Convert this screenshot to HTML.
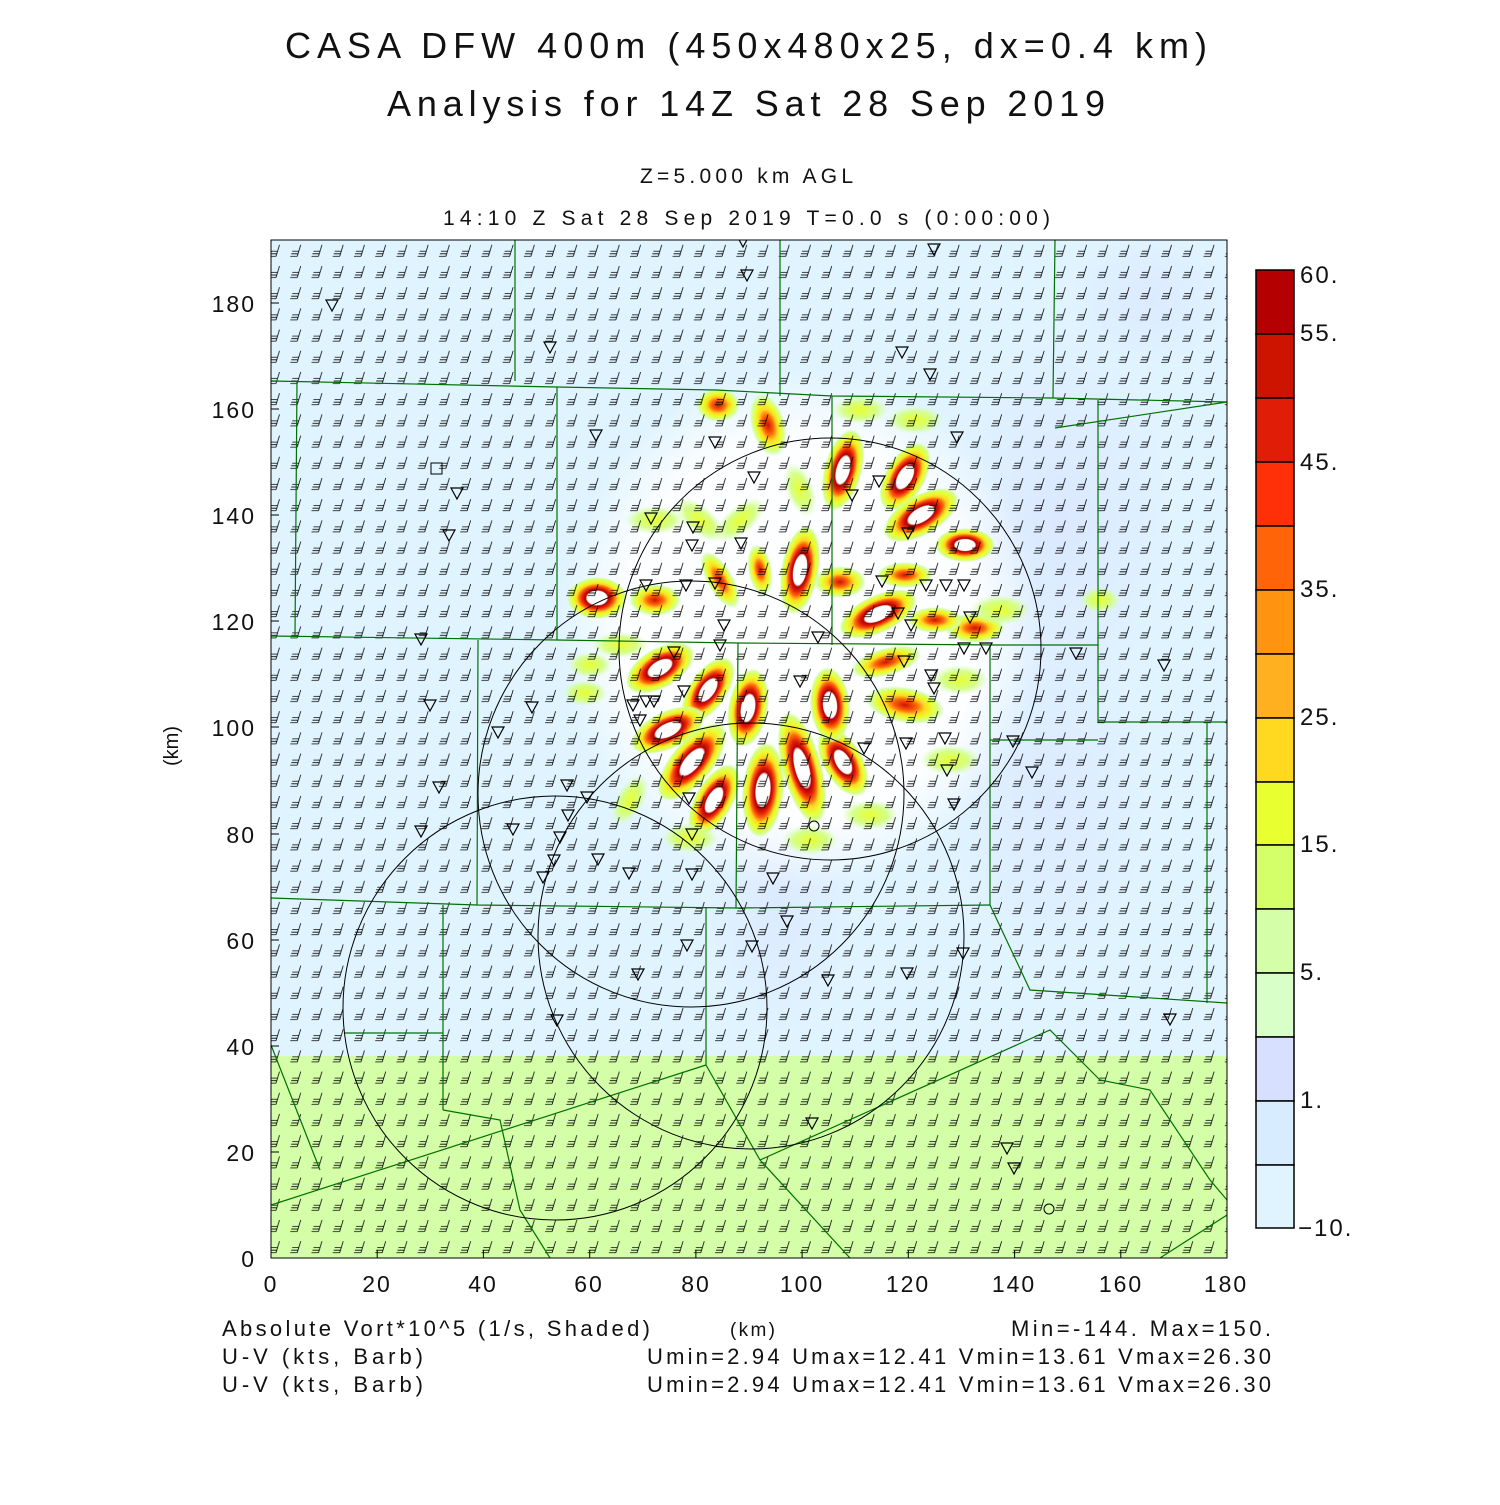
<!DOCTYPE html>
<html><head><meta charset="utf-8"><style>
html,body{margin:0;padding:0;background:#fff;}
svg text{font-family:"Liberation Sans",sans-serif;fill:#111;}
</style></head><body>
<svg width="1500" height="1500" viewBox="0 0 1500 1500" xmlns="http://www.w3.org/2000/svg">
<defs>
<clipPath id="pc"><rect x="271" y="240" width="956" height="1018"/></clipPath>
<pattern id="barb" x="265" y="262" width="21.24" height="21.2" patternUnits="userSpaceOnUse">
<path d="M11,15.5 L14.5,4 M11,15.5 L4,15.5 M11.7,13 L5,13 M12.4,10.5 L6,10.5" stroke="#000" stroke-width="0.8" fill="none"/>
</pattern>
<radialGradient id="blob">
<stop offset="0" stop-color="#fff"/>
<stop offset="0.33" stop-color="#fff"/>
<stop offset="0.38" stop-color="#b40000"/>
<stop offset="0.48" stop-color="#e01e08"/>
<stop offset="0.58" stop-color="#ff6408"/>
<stop offset="0.68" stop-color="#ffd820"/>
<stop offset="0.8" stop-color="#e8ff30"/>
<stop offset="0.92" stop-color="#d4ff88"/>
<stop offset="1" stop-color="#d4ffa8" stop-opacity="0"/>
</radialGradient>
<radialGradient id="blob2">
<stop offset="0" stop-color="#cc1400"/>
<stop offset="0.3" stop-color="#ff6408"/>
<stop offset="0.5" stop-color="#ffd820"/>
<stop offset="0.7" stop-color="#e8ff30"/>
<stop offset="0.88" stop-color="#d4ffa8"/>
<stop offset="1" stop-color="#d4ffa8" stop-opacity="0"/>
</radialGradient>
<radialGradient id="blob3">
<stop offset="0" stop-color="#e8ff30"/>
<stop offset="0.6" stop-color="#d4ff88"/>
<stop offset="1" stop-color="#d4ffa8" stop-opacity="0"/>
</radialGradient>
<radialGradient id="cen">
<stop offset="0" stop-color="#fff"/>
<stop offset="0.75" stop-color="#fff" stop-opacity="0.9"/>
<stop offset="1" stop-color="#fff" stop-opacity="0"/>
</radialGradient>
<radialGradient id="blu">
<stop offset="0" stop-color="#d8e0ff"/>
<stop offset="1" stop-color="#d8e0ff" stop-opacity="0"/>
</radialGradient>
</defs>

<text x="285" y="58" font-size="36" textLength="922" lengthAdjust="spacing" font-weight="300">CASA DFW 400m (450x480x25, dx=0.4 km)</text>
<text x="387" y="116" font-size="36" textLength="718" lengthAdjust="spacing" font-weight="300">Analysis for 14Z Sat 28 Sep 2019</text>
<text x="640" y="183" font-size="21" textLength="213" lengthAdjust="spacing">Z=5.000 km AGL</text>
<text x="443" y="225" font-size="21" textLength="607" lengthAdjust="spacing">14:10 Z Sat 28 Sep 2019    T=0.0 s (0:00:00)</text>

<g clip-path="url(#pc)">
<rect x="271" y="240" width="956" height="1018" fill="#e0f4ff"/>
<rect x="271" y="1056" width="956" height="202" fill="#d4ffa8"/>
<ellipse cx="1060" cy="520" rx="120" ry="200" fill="url(#blu)" opacity="0.6"/>
<ellipse cx="1050" cy="800" rx="110" ry="180" fill="url(#blu)" opacity="0.5"/>
<ellipse cx="780" cy="900" rx="80" ry="150" fill="url(#blu)" opacity="0.5"/>
<ellipse cx="1150" cy="300" rx="90" ry="70" fill="url(#blu)" opacity="0.5"/>
<ellipse cx="800" cy="630" rx="240" ry="260" fill="url(#cen)"/>
<g>
<ellipse cx="597" cy="598" rx="30" ry="21" fill="url(#blob)"/>
<ellipse cx="655" cy="600" rx="26" ry="16" fill="url(#blob2)"/>
<ellipse cx="660" cy="668" rx="38" ry="20" fill="url(#blob)" transform="rotate(-30 660 668)"/>
<ellipse cx="708" cy="690" rx="38" ry="19" fill="url(#blob)" transform="rotate(-55 708 690)"/>
<ellipse cx="668" cy="730" rx="40" ry="19" fill="url(#blob)" transform="rotate(-25 668 730)"/>
<ellipse cx="692" cy="762" rx="48" ry="21" fill="url(#blob)" transform="rotate(-50 692 762)"/>
<ellipse cx="714" cy="800" rx="40" ry="19" fill="url(#blob)" transform="rotate(-60 714 800)"/>
<ellipse cx="763" cy="790" rx="48" ry="21" fill="url(#blob)" transform="rotate(-85 763 790)"/>
<ellipse cx="748" cy="708" rx="40" ry="20" fill="url(#blob)" transform="rotate(-80 748 708)"/>
<ellipse cx="802" cy="768" rx="58" ry="20" fill="url(#blob)" transform="rotate(75 802 768)"/>
<ellipse cx="843" cy="762" rx="38" ry="20" fill="url(#blob)" transform="rotate(60 843 762)"/>
<ellipse cx="830" cy="705" rx="38" ry="20" fill="url(#blob)" transform="rotate(85 830 705)"/>
<ellipse cx="800" cy="570" rx="45" ry="19" fill="url(#blob)" transform="rotate(-80 800 570)"/>
<ellipse cx="840" cy="582" rx="26" ry="16" fill="url(#blob2)"/>
<ellipse cx="878" cy="614" rx="42" ry="19" fill="url(#blob)" transform="rotate(-25 878 614)"/>
<ellipse cx="905" cy="705" rx="40" ry="18" fill="url(#blob2)" transform="rotate(10 905 705)"/>
<ellipse cx="905" cy="477" rx="38" ry="20" fill="url(#blob)" transform="rotate(-60 905 477)"/>
<ellipse cx="921" cy="515" rx="42" ry="20" fill="url(#blob)" transform="rotate(-30 921 515)"/>
<ellipse cx="965" cy="545" rx="30" ry="17" fill="url(#blob)"/>
<ellipse cx="843" cy="470" rx="42" ry="19" fill="url(#blob)" transform="rotate(-75 843 470)"/>
<ellipse cx="718" cy="405" rx="22" ry="17" fill="url(#blob2)"/>
<ellipse cx="768" cy="425" rx="32" ry="17" fill="url(#blob2)" transform="rotate(75 768 425)"/>
<ellipse cx="975" cy="628" rx="30" ry="15" fill="url(#blob2)"/>
<ellipse cx="886" cy="662" rx="36" ry="14" fill="url(#blob2)" transform="rotate(-15 886 662)"/>
<ellipse cx="935" cy="620" rx="28" ry="13" fill="url(#blob2)"/>
<ellipse cx="720" cy="580" rx="32" ry="13" fill="url(#blob2)" transform="rotate(60 720 580)"/>
<ellipse cx="760" cy="570" rx="26" ry="12" fill="url(#blob2)" transform="rotate(80 760 570)"/>
<ellipse cx="740" cy="520" rx="30" ry="14" fill="url(#blob3)" transform="rotate(-40 740 520)"/>
<ellipse cx="700" cy="520" rx="30" ry="14" fill="url(#blob3)" transform="rotate(40 700 520)"/>
<ellipse cx="655" cy="520" rx="30" ry="14" fill="url(#blob3)"/>
<ellipse cx="905" cy="575" rx="28" ry="13" fill="url(#blob2)"/>
<ellipse cx="800" cy="490" rx="28" ry="14" fill="url(#blob3)" transform="rotate(70 800 490)"/>
<ellipse cx="860" cy="410" rx="28" ry="14" fill="url(#blob3)"/>
<ellipse cx="915" cy="420" rx="28" ry="14" fill="url(#blob3)"/>
<ellipse cx="630" cy="800" rx="28" ry="14" fill="url(#blob3)" transform="rotate(-60 630 800)"/>
<ellipse cx="690" cy="838" rx="28" ry="15" fill="url(#blob3)"/>
<ellipse cx="810" cy="840" rx="28" ry="15" fill="url(#blob3)"/>
<ellipse cx="870" cy="815" rx="28" ry="15" fill="url(#blob3)"/>
<ellipse cx="950" cy="760" rx="30" ry="15" fill="url(#blob3)"/>
<ellipse cx="1000" cy="610" rx="30" ry="15" fill="url(#blob3)"/>
<ellipse cx="960" cy="680" rx="28" ry="15" fill="url(#blob3)"/>
<ellipse cx="590" cy="665" rx="22" ry="13" fill="url(#blob3)"/>
<ellipse cx="585" cy="693" rx="22" ry="13" fill="url(#blob3)"/>
<ellipse cx="620" cy="645" rx="28" ry="13" fill="url(#blob3)"/>
<ellipse cx="1100" cy="600" rx="20" ry="13" fill="url(#blob3)"/>
</g>
<rect x="265" y="240" width="970" height="1020" fill="url(#barb)"/>
<g stroke="#007000" stroke-width="1.2" fill="none">
<path d="M271,381 L557,387 L716,390 L832,396 L1053,398 L1227,402"/>
<path d="M515,240 L515,381"/><path d="M780,240 L780,396"/><path d="M1055,240 L1053,398"/>
<path d="M297,381 L295,636"/><path d="M557,387 L557,640"/>
<path d="M271,636 L557,640 L738,643 L1000,645 L1098,645"/>
<path d="M832,396 L832,645"/><path d="M1098,400 L1098,645 L1098,722 L1227,722"/>
<path d="M1055,428 L1227,402"/>
<path d="M478,640 L477,905"/><path d="M738,643 L736,908"/>
<path d="M990,645 L990,905 L1030,990 L1227,1003"/><path d="M990,740 L1098,740"/>
<path d="M271,898 L477,905 L738,908 L990,905"/>
<path d="M1207,722 L1207,1003"/>
<path d="M443,905 L443,1110 M345,1033 L443,1033"/>
<path d="M706,908 L706,1065 L760,1160 L850,1258"/>
<path d="M271,1205 L706,1065"/><path d="M271,1045 L320,1170"/>
<path d="M443,1110 L500,1120 L520,1210 L550,1258"/>
<path d="M760,1160 L1050,1030 L1100,1080 L1150,1090 L1210,1180 L1227,1200"/>
<path d="M1160,1258 L1227,1215"/>
</g>
<g stroke="#000" stroke-width="1" fill="none">
<circle cx="830" cy="649" r="211"/>
<circle cx="691" cy="794" r="213"/>
<circle cx="751" cy="936" r="213"/>
<circle cx="555" cy="1008" r="212"/>
<rect x="431" y="463" width="11" height="11"/>
<circle cx="814" cy="826" r="5"/><circle cx="1049" cy="1209" r="5"/>
</g>
<g stroke="#000" stroke-width="1.2" fill="none">
<path d="M737,236 h12 l-6,11 z M741,270 h12 l-6,11 z M928,244 h12 l-6,11 z M326,300 h12 l-6,11 z M544,342 h12 l-6,11 z M896,347 h12 l-6,11 z M924,369 h12 l-6,11 z M590,430 h12 l-6,11 z M709,437 h12 l-6,11 z M951,432 h12 l-6,11 z M451,488 h12 l-6,11 z M443,530 h12 l-6,11 z M748,472 h12 l-6,11 z M846,490 h12 l-6,11 z M873,476 h12 l-6,11 z M645,513 h12 l-6,11 z M687,522 h12 l-6,11 z M686,540 h12 l-6,11 z M735,538 h12 l-6,11 z M902,528 h12 l-6,11 z M640,580 h12 l-6,11 z M680,580 h12 l-6,11 z M709,578 h12 l-6,11 z M876,576 h12 l-6,11 z M920,580 h12 l-6,11 z M940,580 h12 l-6,11 z M958,580 h12 l-6,11 z M892,608 h12 l-6,11 z M905,620 h12 l-6,11 z M964,612 h12 l-6,11 z M718,620 h12 l-6,11 z M812,632 h12 l-6,11 z M958,643 h12 l-6,11 z M980,643 h12 l-6,11 z M1070,648 h12 l-6,11 z M1158,660 h12 l-6,11 z M415,634 h12 l-6,11 z M714,640 h12 l-6,11 z M668,647 h12 l-6,11 z M898,656 h12 l-6,11 z M925,670 h12 l-6,11 z M928,683 h12 l-6,11 z M794,676 h12 l-6,11 z M678,686 h12 l-6,11 z M640,696 h12 l-6,11 z M648,696 h12 l-6,11 z M627,700 h12 l-6,11 z M634,715 h12 l-6,11 z M424,700 h12 l-6,11 z M526,702 h12 l-6,11 z M492,727 h12 l-6,11 z M939,733 h12 l-6,11 z M900,738 h12 l-6,11 z M858,743 h12 l-6,11 z M1007,736 h12 l-6,11 z M1026,767 h12 l-6,11 z M941,765 h12 l-6,11 z M433,782 h12 l-6,11 z M561,780 h12 l-6,11 z M581,792 h12 l-6,11 z M683,793 h12 l-6,11 z M948,799 h12 l-6,11 z M415,826 h12 l-6,11 z M507,824 h12 l-6,11 z M562,810 h12 l-6,11 z M554,832 h12 l-6,11 z M686,829 h12 l-6,11 z M592,854 h12 l-6,11 z M548,855 h12 l-6,11 z M623,868 h12 l-6,11 z M686,869 h12 l-6,11 z M537,872 h12 l-6,11 z M767,873 h12 l-6,11 z M781,916 h12 l-6,11 z M681,940 h12 l-6,11 z M746,941 h12 l-6,11 z M957,948 h12 l-6,11 z M632,969 h12 l-6,11 z M822,975 h12 l-6,11 z M901,968 h12 l-6,11 z M551,1015 h12 l-6,11 z M1164,1014 h12 l-6,11 z M806,1118 h12 l-6,11 z M1001,1143 h12 l-6,11 z M1008,1163 h12 l-6,11 z"/>
</g>
</g>
<rect x="271" y="240" width="956" height="1018" fill="none" stroke="#000" stroke-width="1"/>
<g stroke="#000" stroke-width="1">
<path d="M271,1258 v-8 M377.2,1258 v-8 M483.4,1258 v-8 M589.7,1258 v-8 M695.9,1258 v-8 M802.1,1258 v-8 M908.3,1258 v-8 M1014.6,1258 v-8 M1120.8,1258 v-8 M1227,1258 v-8"/>
<path d="M271,1258 h8 M271,1152 h8 M271,1046 h8 M271,940 h8 M271,834 h8 M271,727 h8 M271,621 h8 M271,515 h8 M271,409 h8 M271,303 h8"/>
</g>
<g font-size="23" text-anchor="middle" letter-spacing="2">
<text x="271" y="1292">0</text><text x="377" y="1292">20</text><text x="483" y="1292">40</text><text x="589" y="1292">60</text><text x="696" y="1292">80</text><text x="802" y="1292">100</text><text x="908" y="1292">120</text><text x="1014" y="1292">140</text><text x="1121" y="1292">160</text><text x="1226" y="1292">180</text>
</g>
<g font-size="23" text-anchor="end" letter-spacing="2">
<text x="256" y="1267">0</text><text x="256" y="1161">20</text><text x="256" y="1055">40</text><text x="256" y="949">60</text><text x="256" y="843">80</text><text x="256" y="736">100</text><text x="256" y="630">120</text><text x="256" y="524">140</text><text x="256" y="418">160</text><text x="256" y="312">180</text>
</g>
<text transform="translate(178,746) rotate(-90)" font-size="20" text-anchor="middle">(km)</text>

<g stroke="#000" stroke-width="1.5">
<rect x="1256" y="270" width="38" height="64" fill="#b40000"/>
<rect x="1256" y="334" width="38" height="64" fill="#cc1400"/>
<rect x="1256" y="398" width="38" height="64" fill="#e01e08"/>
<rect x="1256" y="462" width="38" height="64" fill="#ff3008"/>
<rect x="1256" y="526" width="38" height="64" fill="#ff6408"/>
<rect x="1256" y="590" width="38" height="64" fill="#ff9410"/>
<rect x="1256" y="654" width="38" height="64" fill="#ffb020"/>
<rect x="1256" y="718" width="38" height="64" fill="#ffd820"/>
<rect x="1256" y="782" width="38" height="63" fill="#e8ff30"/>
<rect x="1256" y="845" width="38" height="64" fill="#d4ff68"/>
<rect x="1256" y="909" width="38" height="64" fill="#d4ffa8"/>
<rect x="1256" y="973" width="38" height="64" fill="#d8ffc8"/>
<rect x="1256" y="1037" width="38" height="64" fill="#d8e0ff"/>
<rect x="1256" y="1101" width="38" height="64" fill="#d8ecff"/>
<rect x="1256" y="1165" width="38" height="63" fill="#e0f4ff"/>
</g>
<g font-size="24" letter-spacing="2">
<text x="1300" y="283">60.</text><text x="1300" y="341">55.</text><text x="1300" y="470">45.</text><text x="1300" y="597">35.</text><text x="1300" y="725">25.</text><text x="1300" y="852">15.</text><text x="1300" y="980">5.</text><text x="1300" y="1108">1.</text><text x="1298" y="1236">−10.</text>
</g>

<g font-size="22">
<text x="222" y="1336" textLength="428" lengthAdjust="spacing">Absolute Vort*10^5 (1/s, Shaded)</text>
<text x="730" y="1336" font-size="19" textLength="45" lengthAdjust="spacing">(km)</text>
<text x="1011" y="1336" textLength="260" lengthAdjust="spacing">Min=-144. Max=150.</text>
<text x="222" y="1364" fill="#333" textLength="201" lengthAdjust="spacing">U-V (kts, Barb)</text>
<text x="647" y="1364" fill="#333" textLength="624" lengthAdjust="spacing">Umin=2.94 Umax=12.41 Vmin=13.61 Vmax=26.30</text>
<text x="222" y="1392" fill="#333" textLength="201" lengthAdjust="spacing">U-V (kts, Barb)</text>
<text x="647" y="1392" fill="#333" textLength="624" lengthAdjust="spacing">Umin=2.94 Umax=12.41 Vmin=13.61 Vmax=26.30</text>
</g>
</svg>
</body></html>
